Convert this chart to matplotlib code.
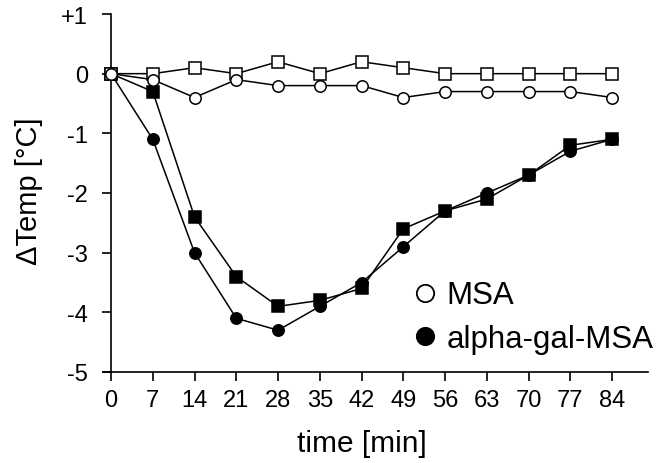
import matplotlib
matplotlib.use("Agg")
import matplotlib.pyplot as plt
from matplotlib.lines import Line2D

plt.rcParams['font.family'] = ['Liberation Sans', 'DejaVu Sans']

time = [0, 7, 14, 21, 28, 35, 42, 49, 56, 63, 70, 77, 84]
msa_sq = [0, 0, 0.1, 0, 0.2, 0, 0.2, 0.1, 0, 0, 0, 0, 0]
msa_ci = [0, -0.1, -0.4, -0.1, -0.2, -0.2, -0.2, -0.4, -0.3, -0.3, -0.3, -0.3, -0.4]
ag_sq = [0, -0.3, -2.4, -3.4, -3.9, -3.8, -3.6, -2.6, -2.3, -2.1, -1.7, -1.2, -1.1]
ag_ci = [0, -1.1, -3.0, -4.1, -4.3, -3.9, -3.5, -2.9, -2.3, -2.0, -1.7, -1.3, -1.1]
yticks = [1, 0, -1, -2, -3, -4, -5]
ytick_labels = ["+1", "0", "-1", "-2", "-3", "-4", "-5"]
legend_labels = ["MSA", "alpha-gal-MSA"]

fig = plt.figure(figsize=(6.58, 4.64), dpi=100)
ax = fig.add_axes([103 / 658, 91 / 464, 545 / 658, 358 / 464])

lw = 1.1
ms = 8.2
mew = 1.1
ax.plot(time, ag_ci, '-', color='black', lw=lw, marker='o', ms=ms, mfc='black', mec='black', mew=mew, clip_on=False, zorder=3)
ax.plot(time, ag_sq, '-', color='black', lw=lw, marker='s', ms=ms, mfc='black', mec='black', mew=mew, clip_on=False, zorder=3)
ax.plot(time, msa_sq, '-', color='black', lw=lw, marker='s', ms=ms, mfc='white', mec='black', mew=mew, clip_on=False, zorder=4)
ax.plot(time, msa_ci, '-', color='black', lw=lw, marker='o', ms=ms, mfc='white', mec='black', mew=mew, clip_on=False, zorder=5)

ax.set_xlim(-1.34, 90.0)
ax.set_ylim(-5, 1)
ax.spines['left'].set_position(('data', 0))
ax.set_xticks(time)
ax.set_xticklabels([str(t) for t in time])
ax.set_yticks(yticks)
ax.set_yticklabels(ytick_labels)
for s in ['top', 'right']:
    ax.spines[s].set_visible(False)
for s in ['left', 'bottom']:
    ax.spines[s].set_linewidth(1.2)
ax.tick_params(axis='both', direction='out', length=6.5, width=1.2, labelsize=17)
ax.tick_params(axis='x', pad=6)
ax.tick_params(axis='y', pad=10)

ax.set_xlabel("time [min]", fontsize=21.5)
ax.xaxis.set_label_coords((362 - 103) / 545, -(430 - 373) / 358)
ax.set_ylabel("ΔTemp [°C]", fontsize=21)
ax.yaxis.set_label_coords(-(103 - 43) / 545, (373 - 191) / 358)

handles = [Line2D([], [], ls='none', marker='o', ms=12.5, mfc='white', mec='black', mew=1.3),
           Line2D([], [], ls='none', marker='o', ms=12.5, mfc='black', mec='black', mew=1.3)]
ax.legend(handles, legend_labels, loc='center left', bbox_to_anchor=((412 - 103) / 545, (373 - 318) / 358),
          frameon=False, fontsize=22.5, handlelength=0.8, handletextpad=0.3,
          labelspacing=0.42, borderpad=0, borderaxespad=0)

fig.savefig("out.png", dpi=100)
